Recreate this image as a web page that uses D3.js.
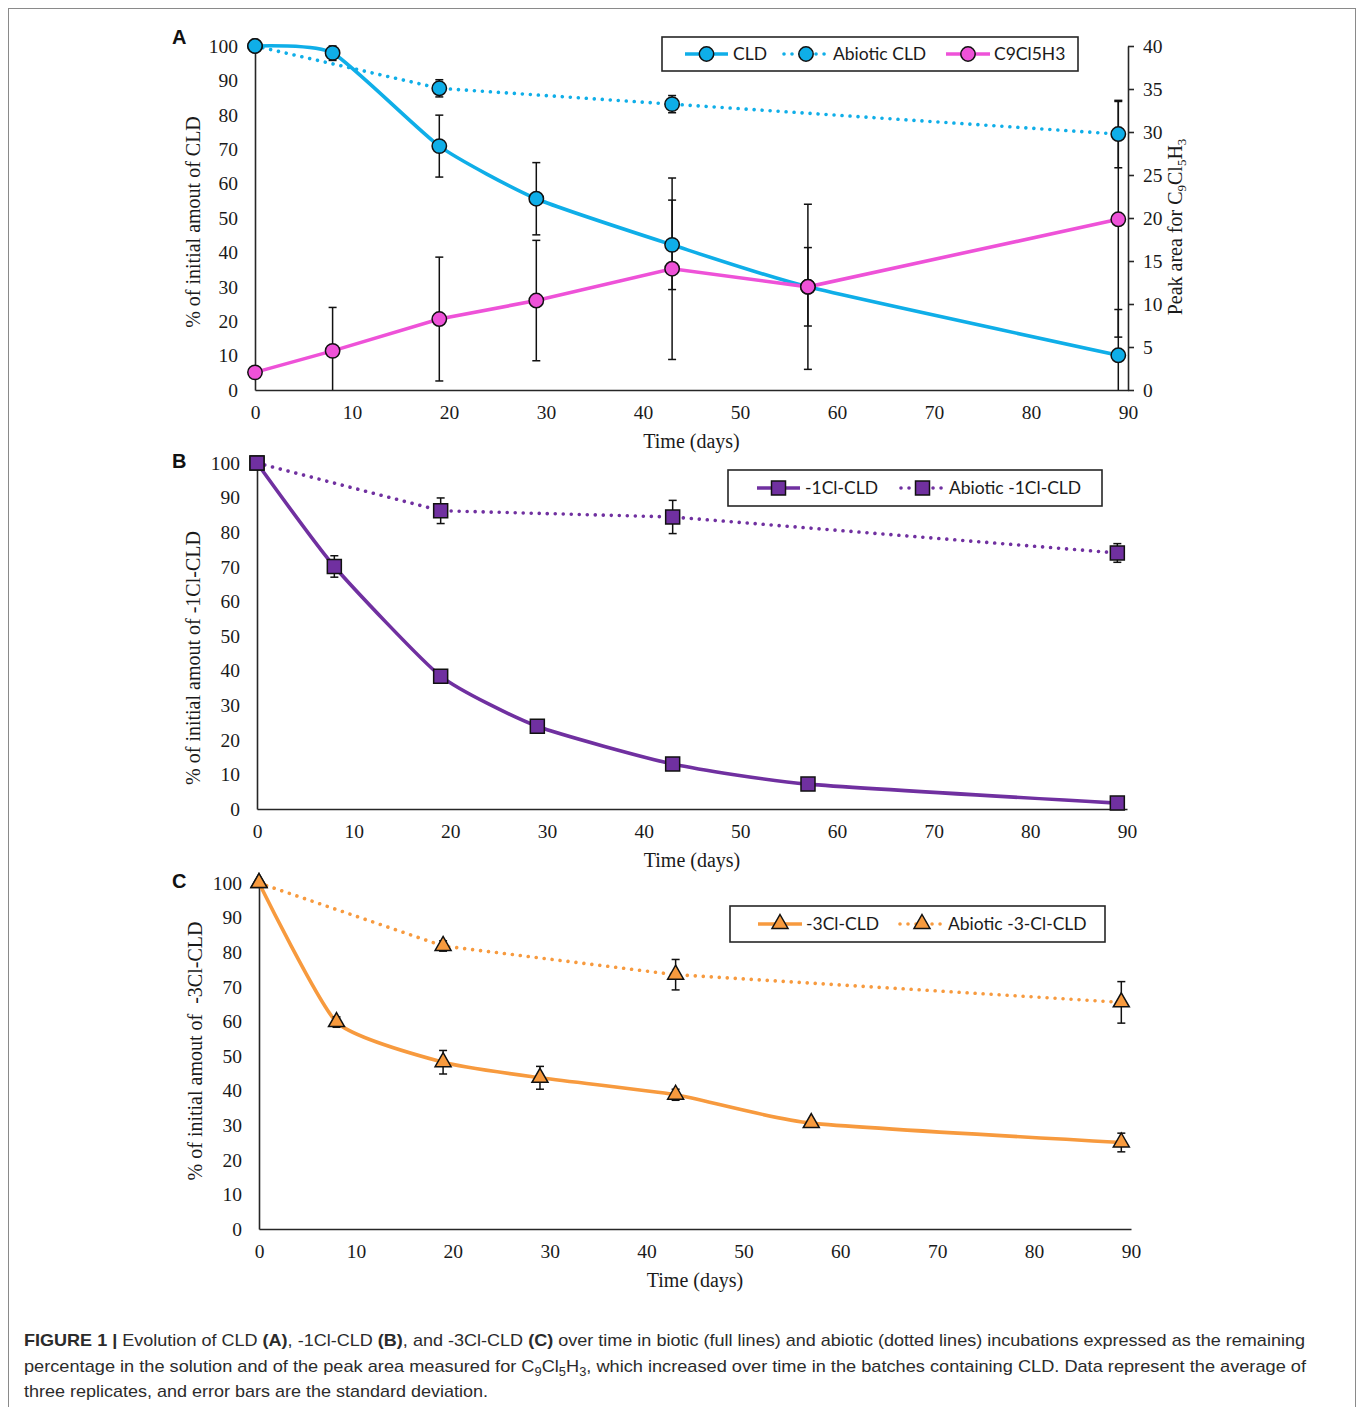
<!DOCTYPE html>
<html><head><meta charset="utf-8">
<script src="https://cdn.jsdelivr.net/npm/d3@7"></script>
<style>body{margin:0;background:#fff} svg{display:block}</style>
</head><body><svg id="c" width="1360" height="1407"></svg>
<script>
// ---------------- DATA ----------------
const days = [0, 8, 19, 29, 43, 57, 89];
const xTicks = [0, 10, 20, 30, 40, 50, 60, 70, 80, 90];
const yTicks = [0, 10, 20, 30, 40, 50, 60, 70, 80, 90, 100];
const yRightTicks = [0, 5, 10, 15, 20, 25, 30, 35, 40];

// Panel A
const cldA = [100, 98, 70.9, 55.6, 42.2, 30.0, 10.1];
const cldAErr = [0, 2.2, 9, 10.5, 13, 11.4, 13.3];
const abioticDaysA = [0, 19, 43, 89];
const abioticCldA = [100, 87.7, 83.1, 74.4];
const abioticCldAErr = [0, 2.5, 2.5, 9.8];
const c9Peak = [2.05, 4.55, 8.25, 10.4, 14.1, 12.0, 19.85];      // right axis
const c9PeakErr = [0, 5.05, 7.2, 7.0, 10.55, 9.6, 13.7];

// Panel B
const cl1 = [100, 70.1, 38.4, 23.9, 13.0, 7.2, 1.7];
const cl1Err = [0, 3.1, 0, 0, 0, 0, 0];
const abioticDaysB = [0, 19, 43, 89];
const abioticCl1 = [100, 86.2, 84.4, 74.0];
const abioticCl1Err = [0, 3.7, 4.8, 2.7];

// Panel C
const cl3 = [100, 59.8, 48.2, 43.7, 38.8, 30.6, 25.0];
const cl3Err = [0, 1.5, 3.4, 3.3, 1.6, 0, 2.7];
const abioticDaysC = [0, 19, 43, 89];
const abioticCl3 = [100, 81.8, 73.5, 65.5];
const abioticCl3Err = [0, 1.5, 4.4, 6.0];

// ---------------- STYLE ----------------
const BLUE = "#0FAEE8", MAGENTA = "#EE52D8", PURPLE = "#7030A0", ORANGE = "#F79A3E";
const AX = "#262626";
const SERIF = "'Liberation Serif','Times New Roman',serif";
const SANS = "Lato,'Liberation Sans',sans-serif";

const svg = d3.select("#c");
svg.append("rect").attr("x", 8.5).attr("y", 8.5).attr("width", 1347).attr("height", 1420)
  .attr("fill", "none").attr("stroke", "#8a8a8a").attr("stroke-width", 1);

function markerPath(shape) {
  if (shape === "circle") return d3.symbol(d3.symbolCircle, Math.PI * 7.2 * 7.2)();
  if (shape === "square") return d3.symbol(d3.symbolSquare, 14 * 14)();
  return "M0,-9.5L8,4.5L-8,4.5Z";
}

function drawSeries(g, x, y, xs, ys, errs, opt) {
  const pts = xs.map((d, i) => [x(d), y(ys[i]), errs[i], ys[i]]);
  const line = d3.line().x(d => d[0]).y(d => d[1]).curve(opt.smooth ? d3.curveCardinal.tension(0.45) : d3.curveLinear);
  g.append("path").datum(pts).attr("d", line).attr("fill", "none").attr("stroke", opt.color)
    .attr("stroke-width", 3.6)
    .attr("stroke-linecap", opt.dotted ? "round" : "butt")
    .attr("stroke-dasharray", opt.dotted ? "0.01,8" : null);
  return pts;
}
function drawErr(g, y, pts, dom) {
  pts.filter(p => p[2] > 0).forEach(p => {
    const lo = Math.max(dom[0], p[3] - p[2]), hi = Math.min(dom[1], p[3] + p[2]);
    const yl = y(lo), yh = y(hi);
    g.append("line").attr("x1", p[0]).attr("x2", p[0]).attr("y1", yl).attr("y2", yh).attr("stroke", "#111").attr("stroke-width", 1.5);
    g.append("line").attr("x1", p[0] - 4).attr("x2", p[0] + 4).attr("y1", yh).attr("y2", yh).attr("stroke", "#111").attr("stroke-width", 1.5);
    if (p[3] - p[2] >= dom[0])
      g.append("line").attr("x1", p[0] - 4).attr("x2", p[0] + 4).attr("y1", yl).attr("y2", yl).attr("stroke", "#111").attr("stroke-width", 1.5);
  });
}
function drawMarkers(g, pts, shape, color) {
  g.selectAll(null).data(pts).enter().append("path")
    .attr("transform", d => `translate(${d[0]},${d[1]})`)
    .attr("d", markerPath(shape)).attr("fill", color).attr("stroke", "#111").attr("stroke-width", 1.5);
}

function panel(cfg) {
  const x = d3.scaleLinear().domain([0, 90]).range([cfg.x0, cfg.x1]);
  const y = d3.scaleLinear().domain([0, 100]).range([cfg.yBot, cfg.yTop]);
  const g = svg.append("g");
  const ax = g.append("g").attr("transform", `translate(0,${cfg.yBot})`)
    .call(d3.axisBottom(x).tickValues(xTicks).tickSize(0).tickPadding(15));
  const ay = g.append("g").attr("transform", `translate(${cfg.x0},0)`)
    .call(d3.axisLeft(y).tickValues(yTicks).tickSize(0).tickPadding(17));
  [ax, ay].forEach(a => {
    a.select(".domain").attr("stroke", AX).attr("stroke-width", 1.6);
    a.selectAll("text").attr("font-family", SERIF).attr("font-size", 19.5).attr("fill", "#1a1a1a");
  });
  let yR = null;
  if (cfg.right) {
    yR = d3.scaleLinear().domain([0, 40]).range([cfg.yBot, cfg.yTop]);
    const ar = g.append("g").attr("transform", `translate(${cfg.x1},0)`)
      .call(d3.axisRight(yR).tickValues(yRightTicks).tickSize(6).tickSizeOuter(0).tickPadding(9));
    ar.select(".domain").attr("stroke", AX).attr("stroke-width", 1.6);
    ar.selectAll("line").attr("stroke", AX).attr("stroke-width", 1.6);
    ar.selectAll("text").attr("font-family", SERIF).attr("font-size", 19.5).attr("fill", "#1a1a1a");
    const t = g.append("text").attr("transform", `translate(1182,${cfg.rightTitleY}) rotate(-90)`)
      .attr("text-anchor", "middle").attr("font-family", SERIF).attr("font-size", 20).attr("fill", "#1a1a1a");
    t.append("tspan").text("Peak area for C");
    t.append("tspan").attr("dy", 4).attr("font-size", 13).text("9");
    t.append("tspan").attr("dy", -4).text("Cl");
    t.append("tspan").attr("dy", 4).attr("font-size", 13).text("5");
    t.append("tspan").attr("dy", -4).text("H");
    t.append("tspan").attr("dy", 4).attr("font-size", 13).text("3");
  }
  g.append("text").attr("x", (cfg.x0 + cfg.x1) / 2).attr("y", cfg.yBot + 58).attr("text-anchor", "middle")
    .attr("font-family", SERIF).attr("font-size", 20).attr("fill", "#1a1a1a").text("Time (days)");
  g.append("text").attr("transform", `translate(${cfg.yTitleX},${cfg.yTitleY}) rotate(-90)`).attr("text-anchor", "middle")
    .attr("font-family", SERIF).attr("font-size", 20).attr("fill", "#1a1a1a").attr("xml:space", "preserve").text(cfg.yTitle);
  g.append("text").attr("x", cfg.letterX).attr("y", cfg.letterY).attr("font-family", "'Liberation Sans',Arial,sans-serif")
    .attr("font-weight", "bold").attr("font-size", 20).attr("fill", "#111").text(cfg.letter);

  const layers = cfg.series.map(s => {
    const ys = s.right ? yR : y;
    const pts = drawSeries(g, x, ys, s.xs, s.ys, s.errs, s);
    return { s, pts, ys };
  });
  layers.forEach(l => drawErr(g, l.ys, l.pts, l.ys.domain()));
  layers.forEach(l => drawMarkers(g, l.pts, l.s.shape, l.s.color));

  const L = cfg.legend;
  g.append("rect").attr("x", L.x).attr("y", L.y).attr("width", L.w).attr("height", L.h)
    .attr("fill", "#fff").attr("stroke", AX).attr("stroke-width", 1.6);
  const cy = L.y + L.h / 2;
  L.items.forEach(it => {
    const s = cfg.series[it.idx];
    g.append("line").attr("x1", it.x1).attr("x2", it.x2).attr("y1", cy).attr("y2", cy)
      .attr("stroke", s.color).attr("stroke-width", 3.6)
      .attr("stroke-linecap", s.dotted ? "round" : "butt")
      .attr("stroke-dasharray", s.dotted ? "0.01,8" : null);
    g.append("path").attr("transform", `translate(${(it.x1 + it.x2) / 2},${cy})`).attr("d", markerPath(s.shape))
      .attr("fill", s.color).attr("stroke", "#111").attr("stroke-width", 1.5);
    g.append("text").attr("x", it.tx).attr("y", cy + 6).attr("font-family", SANS).attr("font-size", 17.5)
      .attr("fill", "#1a1a1a").text(it.label);
  });
}

panel({
  letter: "A", letterX: 172, letterY: 44,
  x0: 255, x1: 1128, yTop: 46, yBot: 390, right: true, rightTitleY: 227,
  yTitle: "% of initial amout of CLD", yTitleX: 200, yTitleY: 222,
  series: [
    { xs: abioticDaysA, ys: abioticCldA, errs: abioticCldAErr, color: BLUE, shape: "circle", dotted: true },
    { xs: days, ys: cldA, errs: cldAErr, color: BLUE, shape: "circle", smooth: true },
    { xs: days, ys: c9Peak, errs: c9PeakErr, color: MAGENTA, shape: "circle", right: true }
  ],
  legend: { x: 662, y: 37, w: 416, h: 34, items: [
    { idx: 1, x1: 685, x2: 728, tx: 733, label: "CLD" },
    { idx: 0, x1: 784, x2: 828, tx: 833, label: "Abiotic CLD" },
    { idx: 2, x1: 946, x2: 990, tx: 994, label: "C9Cl5H3" }
  ] }
});

panel({
  letter: "B", letterX: 172, letterY: 468,
  x0: 257, x1: 1127, yTop: 463, yBot: 809,
  yTitle: "% of initial amout of -1Cl-CLD", yTitleX: 200, yTitleY: 658,
  series: [
    { xs: days, ys: cl1, errs: cl1Err, color: PURPLE, shape: "square", smooth: true },
    { xs: abioticDaysB, ys: abioticCl1, errs: abioticCl1Err, color: PURPLE, shape: "square", dotted: true }
  ],
  legend: { x: 728, y: 470, w: 374, h: 36, items: [
    { idx: 0, x1: 757, x2: 800, tx: 805, label: "-1Cl-CLD" },
    { idx: 1, x1: 901, x2: 944, tx: 949, label: "Abiotic -1Cl-CLD" }
  ] }
});

panel({
  letter: "C", letterX: 172, letterY: 888,
  x0: 259, x1: 1131, yTop: 883, yBot: 1229,
  yTitle: "% of initial amout of  -3Cl-CLD", yTitleX: 202, yTitleY: 1051,
  series: [
    { xs: days, ys: cl3, errs: cl3Err, color: ORANGE, shape: "triangle", smooth: true },
    { xs: abioticDaysC, ys: abioticCl3, errs: abioticCl3Err, color: ORANGE, shape: "triangle", dotted: true }
  ],
  legend: { x: 730, y: 906, w: 375, h: 36, items: [
    { idx: 0, x1: 758, x2: 802, tx: 806, label: "-3Cl-CLD" },
    { idx: 1, x1: 900, x2: 944, tx: 948, label: "Abiotic -3-Cl-CLD" }
  ] }
});

// ---------------- CAPTION ----------------
const CAP = "'Liberation Sans',Arial,sans-serif";
const capLines = [
  { y: 1346, w: 1281, parts: [["FIGURE 1 | ", "b"], ["Evolution of CLD "], ["(A)", "b"], [", -1Cl-CLD "], ["(B)", "b"], [", and -3Cl-CLD "], ["(C)", "b"], [" over time in biotic (full lines) and abiotic (dotted lines) incubations expressed as the remaining"]] },
  { y: 1372, w: 1282, parts: [["percentage in the solution and of the peak area measured for C"], ["9", "s"], ["Cl", "u"], ["5", "s"], ["H", "u"], ["3", "s"], [", which increased over time in the batches containing CLD. Data represent the average of", "u"]] },
  { y: 1397, w: 464, parts: [["three replicates, and error bars are the standard deviation."]] }
];
capLines.forEach(l => {
  const t = svg.append("text").attr("x", 24).attr("y", l.y).attr("font-family", CAP).attr("font-size", 17)
    .attr("fill", "#2b2b2b").attr("textLength", l.w).attr("lengthAdjust", "spacingAndGlyphs").attr("xml:space", "preserve");
  l.parts.forEach(p => {
    const ts = t.append("tspan").text(p[0]);
    if (p[1] === "b") ts.attr("font-weight", "bold");
    if (p[1] === "s") ts.attr("font-size", 12).attr("dy", 4);
    if (p[1] === "u") ts.attr("dy", -4);
  });
});
</script></body></html>
